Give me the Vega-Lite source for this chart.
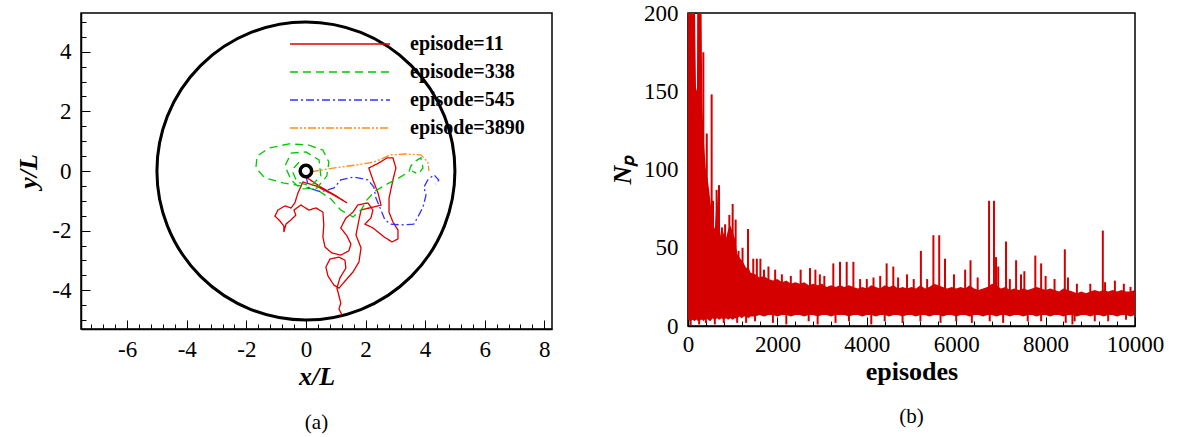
{
  "$schema": "https://vega.github.io/schema/vega-lite/v6.json",
  "padding": {"left": 15, "top": 1, "right": 5, "bottom": 0},
  "spacing": 55,
  "config": {
    "font": "Liberation Serif",
    "view": {"stroke": "black", "strokeWidth": 1.5},
    "axis": {"labelFont": "Liberation Serif", "labelFontSize": 23, "labelColor": "black", "domainColor": "black", "domainWidth": 1.5, "tickColor": "black", "tickWidth": 1, "tickSize": -9, "grid": false, "labelFlush": false, "labelOverlap": false, "titleFont": "Liberation Serif", "titleFontSize": 26, "titleFontWeight": "bold", "titleColor": "black"},
    "title": {"font": "Liberation Serif", "fontSize": 21, "fontWeight": "normal", "color": "black"}
  },
  "datasets": {
    "traj": [
      {"s":"episode=11","i":1,"x":0,"y":-0.20},{"s":"episode=11","i":2,"x":0.44,"y":-0.50},{"s":"episode=11","i":3,"x":0.91,"y":-0.77},{"s":"episode=11","i":4,"x":1.38,"y":-1.07},{"s":"episode=11","i":5,"x":0.94,"y":-0.81},{"s":"episode=11","i":6,"x":0.34,"y":-0.50},{"s":"episode=11","i":7,"x":-0.10,"y":-0.37},{"s":"episode=11","i":8,"x":-0.27,"y":-0.74},{"s":"episode=11","i":9,"x":-0.37,"y":-1.07},{"s":"episode=11","i":10,"x":-0.50,"y":-1.24},
      {"s":"episode=11","i":11,"x":-0.70,"y":-1.17},{"s":"episode=11","i":12,"x":-0.94,"y":-1.31},{"s":"episode=11","i":13,"x":-1.04,"y":-1.51},{"s":"episode=11","i":14,"x":-0.87,"y":-1.68},{"s":"episode=11","i":15,"x":-0.74,"y":-1.85},{"s":"episode=11","i":16,"x":-0.74,"y":-2.05},{"s":"episode=11","i":17,"x":-0.67,"y":-1.78},{"s":"episode=11","i":18,"x":-0.50,"y":-1.64},{"s":"episode=11","i":19,"x":-0.34,"y":-1.48},{"s":"episode=11","i":20,"x":-0.40,"y":-1.31},
      {"s":"episode=11","i":21,"x":-0.17,"y":-1.14},{"s":"episode=11","i":22,"x":0.10,"y":-1.31},{"s":"episode=11","i":23,"x":0.34,"y":-1.24},{"s":"episode=11","i":24,"x":0.57,"y":-1.38},{"s":"episode=11","i":25,"x":0.60,"y":-1.81},{"s":"episode=11","i":26,"x":0.57,"y":-2.21},{"s":"episode=11","i":27,"x":0.64,"y":-2.55},{"s":"episode=11","i":28,"x":0.87,"y":-2.75},{"s":"episode=11","i":29,"x":1.17,"y":-2.82},{"s":"episode=11","i":30,"x":1.44,"y":-2.68},
      {"s":"episode=11","i":31,"x":1.51,"y":-2.45},{"s":"episode=11","i":32,"x":1.38,"y":-2.18},{"s":"episode=11","i":33,"x":1.17,"y":-1.91},{"s":"episode=11","i":34,"x":1.34,"y":-1.58},{"s":"episode=11","i":35,"x":1.58,"y":-1.38},{"s":"episode=11","i":36,"x":1.74,"y":-1.14},{"s":"episode=11","i":37,"x":2.08,"y":-1.07},{"s":"episode=11","i":38,"x":2.25,"y":-1.31},{"s":"episode=11","i":39,"x":2.18,"y":-1.58},{"s":"episode=11","i":40,"x":1.98,"y":-1.78},
      {"s":"episode=11","i":41,"x":2.25,"y":-1.91},{"s":"episode=11","i":42,"x":2.62,"y":-2.21},{"s":"episode=11","i":43,"x":2.89,"y":-2.38},{"s":"episode=11","i":44,"x":3.09,"y":-2.28},{"s":"episode=11","i":45,"x":3.09,"y":-1.98},{"s":"episode=11","i":46,"x":2.92,"y":-1.71},{"s":"episode=11","i":47,"x":2.79,"y":-1.38},{"s":"episode=11","i":48,"x":2.79,"y":-0.91},{"s":"episode=11","i":49,"x":2.92,"y":-0.30},{"s":"episode=11","i":50,"x":3.02,"y":0.10},
      {"s":"episode=11","i":51,"x":2.92,"y":0.44},{"s":"episode=11","i":52,"x":2.72,"y":0.44},{"s":"episode=11","i":53,"x":2.45,"y":0.27},{"s":"episode=11","i":54,"x":2.11,"y":0.10},{"s":"episode=11","i":55,"x":2.25,"y":-0.30},{"s":"episode=11","i":56,"x":2.42,"y":-0.74},{"s":"episode=11","i":57,"x":2.52,"y":-1.14},{"s":"episode=11","i":58,"x":2.25,"y":-1.21},{"s":"episode=11","i":59,"x":1.85,"y":-1.31},{"s":"episode=11","i":60,"x":1.78,"y":-1.64},
      {"s":"episode=11","i":61,"x":1.68,"y":-2.15},{"s":"episode=11","i":62,"x":1.85,"y":-2.58},{"s":"episode=11","i":63,"x":1.78,"y":-3.05},{"s":"episode=11","i":64,"x":1.58,"y":-3.39},{"s":"episode=11","i":65,"x":1.34,"y":-3.66},{"s":"episode=11","i":66,"x":1.11,"y":-3.93},{"s":"episode=11","i":67,"x":0.94,"y":-3.83},{"s":"episode=11","i":68,"x":0.74,"y":-3.52},{"s":"episode=11","i":69,"x":0.67,"y":-3.22},{"s":"episode=11","i":70,"x":0.81,"y":-2.95},
      {"s":"episode=11","i":71,"x":1.11,"y":-2.89},{"s":"episode=11","i":72,"x":1.31,"y":-2.99},{"s":"episode=11","i":73,"x":1.34,"y":-3.26},{"s":"episode=11","i":74,"x":1.14,"y":-3.59},{"s":"episode=11","i":75,"x":1.04,"y":-3.93},{"s":"episode=11","i":76,"x":1.11,"y":-4.19},{"s":"episode=11","i":77,"x":1.17,"y":-4.43},{"s":"episode=11","i":78,"x":1.11,"y":-4.63},{"s":"episode=11","i":79,"x":1.21,"y":-4.83},
      {"s":"episode=338","i":1,"x":-0.23,"y":0.30},{"s":"episode=338","i":2,"x":-0.47,"y":0.03},{"s":"episode=338","i":3,"x":-0.30,"y":-0.37},{"s":"episode=338","i":4,"x":0.17,"y":-0.50},{"s":"episode=338","i":5,"x":0.50,"y":-0.17},{"s":"episode=338","i":6,"x":0.44,"y":0.37},{"s":"episode=338","i":7,"x":0,"y":0.64},{"s":"episode=338","i":8,"x":-0.50,"y":0.60},{"s":"episode=338","i":9,"x":-0.70,"y":0.17},{"s":"episode=338","i":10,"x":-0.50,"y":-0.30},
      {"s":"episode=338","i":11,"x":-0.17,"y":-0.60},{"s":"episode=338","i":12,"x":0.37,"y":-0.57},{"s":"episode=338","i":13,"x":0.70,"y":-0.17},{"s":"episode=338","i":14,"x":0.77,"y":0.30},{"s":"episode=338","i":15,"x":0.57,"y":0.70},{"s":"episode=338","i":16,"x":0.10,"y":0.87},{"s":"episode=338","i":17,"x":-0.57,"y":0.91},{"s":"episode=338","i":18,"x":-1.24,"y":0.77},{"s":"episode=338","i":19,"x":-1.64,"y":0.50},{"s":"episode=338","i":20,"x":-1.68,"y":0.10},
      {"s":"episode=338","i":21,"x":-1.38,"y":-0.23},{"s":"episode=338","i":22,"x":-0.77,"y":-0.40},{"s":"episode=338","i":23,"x":-0.17,"y":-0.50},{"s":"episode=338","i":24,"x":0.44,"y":-0.67},{"s":"episode=338","i":25,"x":0.84,"y":-0.94},{"s":"episode=338","i":26,"x":1.17,"y":-1.31},{"s":"episode=338","i":27,"x":1.58,"y":-1.54},{"s":"episode=338","i":28,"x":1.85,"y":-1.31},{"s":"episode=338","i":29,"x":2.05,"y":-0.97},{"s":"episode=338","i":30,"x":2.32,"y":-0.67},
      {"s":"episode=338","i":31,"x":2.72,"y":-0.44},{"s":"episode=338","i":32,"x":3.12,"y":-0.23},{"s":"episode=338","i":33,"x":3.46,"y":-0.03},{"s":"episode=338","i":34,"x":3.52,"y":0.17},{"s":"episode=338","i":35,"x":3.69,"y":0.34},{"s":"episode=338","i":36,"x":3.86,"y":0.44},{"s":"episode=338","i":37,"x":3.93,"y":0.10},{"s":"episode=338","i":38,"x":3.76,"y":-0.10},{"s":"episode=338","i":39,"x":3.56,"y":0},
      {"s":"episode=545","i":1,"x":0,"y":-0.17},{"s":"episode=545","i":2,"x":0.10,"y":-0.57},{"s":"episode=545","i":3,"x":0.50,"y":-0.70},{"s":"episode=545","i":4,"x":0.94,"y":-0.57},{"s":"episode=545","i":5,"x":1.17,"y":-0.30},{"s":"episode=545","i":6,"x":1.61,"y":-0.20},{"s":"episode=545","i":7,"x":2.08,"y":-0.30},{"s":"episode=545","i":8,"x":2.28,"y":-0.54},{"s":"episode=545","i":9,"x":2.35,"y":-0.91},{"s":"episode=545","i":10,"x":2.52,"y":-1.31},
      {"s":"episode=545","i":11,"x":2.65,"y":-1.64},{"s":"episode=545","i":12,"x":2.85,"y":-1.78},{"s":"episode=545","i":13,"x":3.19,"y":-1.81},{"s":"episode=545","i":14,"x":3.62,"y":-1.78},{"s":"episode=545","i":15,"x":3.76,"y":-1.54},{"s":"episode=545","i":16,"x":3.93,"y":-1.21},{"s":"episode=545","i":17,"x":4.03,"y":-0.81},{"s":"episode=545","i":18,"x":3.96,"y":-0.54},{"s":"episode=545","i":19,"x":4.09,"y":-0.30},{"s":"episode=545","i":20,"x":4.30,"y":-0.13},
      {"s":"episode=545","i":21,"x":4.46,"y":-0.30},{"s":"episode=545","i":22,"x":4.36,"y":-0.44},
      {"s":"episode=3890","i":1,"x":0.17,"y":-0.03},{"s":"episode=3890","i":2,"x":0.91,"y":0.10},{"s":"episode=3890","i":3,"x":1.68,"y":0.20},{"s":"episode=3890","i":4,"x":2.28,"y":0.30},{"s":"episode=3890","i":5,"x":2.85,"y":0.54},{"s":"episode=3890","i":6,"x":3.36,"y":0.57},{"s":"episode=3890","i":7,"x":3.86,"y":0.54},{"s":"episode=3890","i":8,"x":4.09,"y":0.30},{"s":"episode=3890","i":9,"x":4.13,"y":0}
    ],
    "origin": [{"x": 0, "y": 0}],
    "env": [
      {"ep":0,"lo":4,"hi":215},{"ep":50,"lo":3,"hi":215},{"ep":100,"lo":4,"hi":215},{"ep":150,"lo":3,"hi":215},{"ep":180,"lo":4,"hi":150},{"ep":200,"lo":4,"hi":152},{"ep":220,"lo":3,"hi":215},{"ep":300,"lo":4,"hi":215},{"ep":320,"lo":4,"hi":140},{"ep":350,"lo":3,"hi":120},
      {"ep":400,"lo":5,"hi":100},{"ep":450,"lo":4,"hi":92},{"ep":500,"lo":3,"hi":80},{"ep":550,"lo":5,"hi":66},{"ep":600,"lo":4,"hi":62},{"ep":650,"lo":5,"hi":85},{"ep":700,"lo":4,"hi":64},{"ep":750,"lo":5,"hi":55},{"ep":800,"lo":4,"hi":60},{"ep":850,"lo":5,"hi":56},
      {"ep":900,"lo":4,"hi":62},{"ep":950,"lo":5,"hi":64},{"ep":1000,"lo":4,"hi":60},{"ep":1050,"lo":5,"hi":56},{"ep":1100,"lo":5,"hi":46},{"ep":1150,"lo":6,"hi":44},{"ep":1200,"lo":5,"hi":42},{"ep":1250,"lo":6,"hi":40},{"ep":1300,"lo":6,"hi":37},{"ep":1350,"lo":5,"hi":38},
      {"ep":1400,"lo":6,"hi":34},{"ep":1500,"lo":6,"hi":33},{"ep":1600,"lo":7,"hi":31},{"ep":1700,"lo":6,"hi":32},{"ep":1800,"lo":7,"hi":30},{"ep":1900,"lo":7,"hi":29},{"ep":2000,"lo":6,"hi":30},{"ep":2100,"lo":7,"hi":28},{"ep":2200,"lo":7,"hi":29},{"ep":2300,"lo":6,"hi":27},
      {"ep":2400,"lo":7,"hi":28},{"ep":2500,"lo":7,"hi":27},{"ep":2600,"lo":6,"hi":28},{"ep":2700,"lo":7,"hi":26},{"ep":2800,"lo":7,"hi":27},{"ep":2900,"lo":6,"hi":26},{"ep":3000,"lo":7,"hi":27},{"ep":3100,"lo":7,"hi":25},{"ep":3200,"lo":6,"hi":26},{"ep":3300,"lo":7,"hi":25},
      {"ep":3400,"lo":7,"hi":26},{"ep":3500,"lo":7,"hi":25},{"ep":3600,"lo":6,"hi":26},{"ep":3700,"lo":7,"hi":25},{"ep":3800,"lo":7,"hi":24},{"ep":3900,"lo":6,"hi":25},{"ep":4000,"lo":7,"hi":24},{"ep":4100,"lo":7,"hi":26},{"ep":4200,"lo":6,"hi":25},{"ep":4300,"lo":7,"hi":24},
      {"ep":4400,"lo":7,"hi":26},{"ep":4500,"lo":6,"hi":25},{"ep":4600,"lo":7,"hi":26},{"ep":4700,"lo":7,"hi":24},{"ep":4800,"lo":6,"hi":25},{"ep":4900,"lo":7,"hi":24},{"ep":5000,"lo":7,"hi":25},{"ep":5100,"lo":6,"hi":24},{"ep":5200,"lo":7,"hi":26},{"ep":5300,"lo":7,"hi":24},
      {"ep":5400,"lo":6,"hi":25},{"ep":5500,"lo":7,"hi":27},{"ep":5600,"lo":7,"hi":26},{"ep":5700,"lo":6,"hi":25},{"ep":5800,"lo":7,"hi":24},{"ep":5900,"lo":7,"hi":25},{"ep":6000,"lo":6,"hi":24},{"ep":6100,"lo":7,"hi":25},{"ep":6200,"lo":7,"hi":24},{"ep":6300,"lo":6,"hi":26},
      {"ep":6400,"lo":7,"hi":24},{"ep":6500,"lo":7,"hi":23},{"ep":6600,"lo":6,"hi":24},{"ep":6700,"lo":7,"hi":25},{"ep":6800,"lo":7,"hi":27},{"ep":6900,"lo":6,"hi":26},{"ep":7000,"lo":7,"hi":24},{"ep":7100,"lo":7,"hi":25},{"ep":7200,"lo":6,"hi":23},{"ep":7300,"lo":7,"hi":24},
      {"ep":7400,"lo":7,"hi":23},{"ep":7500,"lo":6,"hi":24},{"ep":7600,"lo":7,"hi":23},{"ep":7700,"lo":7,"hi":24},{"ep":7800,"lo":6,"hi":25},{"ep":7900,"lo":7,"hi":24},{"ep":8000,"lo":7,"hi":23},{"ep":8100,"lo":6,"hi":24},{"ep":8200,"lo":7,"hi":23},{"ep":8300,"lo":7,"hi":22},
      {"ep":8400,"lo":6,"hi":24},{"ep":8500,"lo":7,"hi":23},{"ep":8600,"lo":7,"hi":22},{"ep":8700,"lo":6,"hi":21},{"ep":8800,"lo":7,"hi":22},{"ep":8900,"lo":7,"hi":21},{"ep":9000,"lo":6,"hi":22},{"ep":9100,"lo":7,"hi":23},{"ep":9200,"lo":7,"hi":22},{"ep":9300,"lo":6,"hi":23},
      {"ep":9400,"lo":7,"hi":22},{"ep":9500,"lo":7,"hi":23},{"ep":9600,"lo":6,"hi":22},{"ep":9700,"lo":7,"hi":23},{"ep":9800,"lo":7,"hi":22},{"ep":9900,"lo":6,"hi":22},{"ep":10000,"lo":7,"hi":23}
    ],
    "spk": [
      {"ep":230,"lo":10,"hi":215},{"ep":343,"lo":10,"hi":175},{"ep":420,"lo":10,"hi":123},{"ep":529,"lo":10,"hi":148},{"ep":560,"lo":10,"hi":80},{"ep":640,"lo":10,"hi":87},{"ep":693,"lo":10,"hi":90},{"ep":760,"lo":10,"hi":63},{"ep":830,"lo":10,"hi":65},{"ep":925,"lo":10,"hi":71},
      {"ep":999,"lo":10,"hi":78},{"ep":1066,"lo":10,"hi":68},{"ep":1130,"lo":10,"hi":48},{"ep":1220,"lo":10,"hi":50},{"ep":1342,"lo":10,"hi":62},{"ep":1460,"lo":10,"hi":43},{"ep":1540,"lo":10,"hi":43},{"ep":1620,"lo":10,"hi":43},{"ep":1700,"lo":10,"hi":36},{"ep":1800,"lo":10,"hi":38},
      {"ep":1950,"lo":10,"hi":36},{"ep":2100,"lo":10,"hi":33},{"ep":2300,"lo":10,"hi":32},{"ep":2520,"lo":10,"hi":36},{"ep":2729,"lo":10,"hi":37},{"ep":2850,"lo":10,"hi":36},{"ep":2950,"lo":10,"hi":33},{"ep":3050,"lo":10,"hi":32},{"ep":3251,"lo":10,"hi":40},{"ep":3400,"lo":10,"hi":41},
      {"ep":3550,"lo":10,"hi":41},{"ep":3700,"lo":10,"hi":41},{"ep":3850,"lo":10,"hi":30},{"ep":4000,"lo":10,"hi":30},{"ep":4150,"lo":10,"hi":31},{"ep":4300,"lo":10,"hi":32},{"ep":4444,"lo":10,"hi":40},{"ep":4593,"lo":10,"hi":38},{"ep":4700,"lo":10,"hi":31},{"ep":4900,"lo":10,"hi":33},
      {"ep":5050,"lo":10,"hi":30},{"ep":5210,"lo":10,"hi":48},{"ep":5350,"lo":10,"hi":30},{"ep":5490,"lo":10,"hi":58},{"ep":5620,"lo":10,"hi":58},{"ep":5750,"lo":10,"hi":43},{"ep":5950,"lo":10,"hi":33},{"ep":6200,"lo":10,"hi":36},{"ep":6320,"lo":10,"hi":42},{"ep":6480,"lo":10,"hi":31},
      {"ep":6735,"lo":10,"hi":80},{"ep":6845,"lo":10,"hi":80},{"ep":6890,"lo":10,"hi":44},{"ep":6940,"lo":10,"hi":38},{"ep":7115,"lo":10,"hi":54},{"ep":7200,"lo":10,"hi":30},{"ep":7340,"lo":10,"hi":42},{"ep":7450,"lo":10,"hi":33},{"ep":7525,"lo":10,"hi":35},{"ep":7770,"lo":10,"hi":45},
      {"ep":7900,"lo":10,"hi":40},{"ep":8000,"lo":10,"hi":32},{"ep":8200,"lo":10,"hi":30},{"ep":8430,"lo":10,"hi":49},{"ep":8500,"lo":10,"hi":31},{"ep":8700,"lo":10,"hi":27},{"ep":9000,"lo":10,"hi":27},{"ep":9280,"lo":10,"hi":61},{"ep":9330,"lo":10,"hi":28},{"ep":9550,"lo":10,"hi":29},
      {"ep":9750,"lo":10,"hi":27},{"ep":9900,"lo":10,"hi":25},
      {"ep":60,"lo":0.5,"hi":10},{"ep":250,"lo":1,"hi":10},{"ep":400,"lo":2,"hi":10},{"ep":600,"lo":1,"hi":10},{"ep":800,"lo":2,"hi":10},{"ep":1100,"lo":2,"hi":10},{"ep":1300,"lo":2,"hi":10},{"ep":1500,"lo":3,"hi":10},{"ep":1900,"lo":2,"hi":10},{"ep":2200,"lo":1,"hi":10},
      {"ep":2700,"lo":3,"hi":10},{"ep":2900,"lo":1,"hi":10},{"ep":3300,"lo":2,"hi":10},{"ep":3600,"lo":3,"hi":10},{"ep":4100,"lo":1,"hi":10},{"ep":4400,"lo":3,"hi":10},{"ep":4800,"lo":2,"hi":10},{"ep":5200,"lo":3,"hi":10},{"ep":5650,"lo":2,"hi":10},{"ep":6000,"lo":3,"hi":10},
      {"ep":6350,"lo":2,"hi":10},{"ep":6750,"lo":3,"hi":10},{"ep":7050,"lo":2,"hi":10},{"ep":7600,"lo":3,"hi":10},{"ep":7900,"lo":3,"hi":10},{"ep":8450,"lo":2,"hi":10},{"ep":8600,"lo":1,"hi":10},{"ep":8650,"lo":3,"hi":10},{"ep":9100,"lo":3,"hi":10},{"ep":9400,"lo":3,"hi":10},{"ep":9800,"lo":4,"hi":10}
    ]
  },
  "hconcat": [
    {
      "width": 471,
      "height": 316,
      "title": {"text": "(a)", "orient": "bottom", "frame": "group", "anchor": "middle", "offset": 23},
      "resolve": {"axis": {"x": "independent", "y": "independent"}},
      "layer": [
        {
          "data": {"name": "origin"},
          "mark": {"type": "point", "shape": "circle", "filled": false, "size": 88804, "stroke": "black", "strokeWidth": 3, "opacity": 1, "clip": false},
          "encoding": {
            "x": {"field": "x", "type": "quantitative", "scale": {"domain": [-7.55, 8.26], "nice": false, "zero": false},
                  "axis": {"orient": "bottom", "values": [-6, -4, -2, 0, 2, 4, 6, 8], "labelExpr": "replace(datum.label, '−', '-')", "title": "x/L", "titleFontStyle": "italic", "labelPadding": 18, "titlePadding": 2}},
            "y": {"field": "y", "type": "quantitative", "scale": {"domain": [-5.3, 5.3], "nice": false, "zero": false},
                  "axis": {"orient": "left", "values": [-4, -2, 0, 2, 4], "labelExpr": "replace(datum.label, '−', '-')", "title": "y/L", "titleFontStyle": "italic", "labelPadding": 19, "titlePadding": 10}}
          }
        },
        {
          "data": {"name": "traj"},
          "mark": {"type": "line", "strokeWidth": 1.3, "clip": true},
          "encoding": {
            "x": {"field": "x", "type": "quantitative",
                  "axis": {"orient": "bottom", "values": [-7.2,-6.8,-6.4,-6,-5.6,-5.2,-4.8,-4.4,-4,-3.6,-3.2,-2.8,-2.4,-2,-1.6,-1.2,-0.8,-0.4,0,0.4,0.8,1.2,1.6,2,2.4,2.8,3.2,3.6,4,4.4,4.8,5.2,5.6,6,6.4,6.8,7.2,7.6,8], "labels": false, "domain": false, "tickSize": -5, "title": null}},
            "y": {"field": "y", "type": "quantitative",
                  "axis": {"orient": "left", "values": [-5,-4.5,-4,-3.5,-3,-2.5,-2,-1.5,-1,-0.5,0,0.5,1,1.5,2,2.5,3,3.5,4,4.5,5], "labels": false, "domain": false, "tickSize": -5, "title": null}},
            "order": {"field": "i", "type": "quantitative"},
            "color": {"field": "s", "type": "nominal",
                      "scale": {"domain": ["episode=11", "episode=338", "episode=545", "episode=3890"], "range": ["#dd0000", "#00c800", "#3333ff", "#ff8c1a"]},
                      "legend": {"orient": "none", "legendX": 249, "legendY": 21, "title": null, "symbolType": "M -10 0 L 10 0", "symbolSize": 100, "symbolStrokeWidth": 1.5, "labelFont": "Liberation Serif", "labelFontSize": 20, "labelFontWeight": "bold", "labelColor": "black", "labelOffset": 60, "rowPadding": 8}},
            "strokeDash": {"field": "s", "type": "nominal",
                           "scale": {"domain": ["episode=11", "episode=338", "episode=545", "episode=3890"], "range": [[1, 0], [8, 5], [8, 3, 2, 3], [8, 2, 2, 2, 2, 2]]},
                           "legend": {"orient": "none", "legendX": 249, "legendY": 21, "title": null}}
          }
        },
        {
          "data": {"name": "origin"},
          "mark": {"type": "point", "shape": "circle", "filled": false, "size": 132, "stroke": "black", "strokeWidth": 3.5, "opacity": 1},
          "encoding": {
            "x": {"field": "x", "type": "quantitative", "axis": null},
            "y": {"field": "y", "type": "quantitative", "axis": null}
          }
        }
      ]
    },
    {
      "width": 447,
      "height": 313,
      "title": {"text": "(b)", "orient": "bottom", "frame": "group", "anchor": "middle", "offset": 22},
      "resolve": {"axis": {"x": "independent", "y": "independent"}},
      "layer": [
        {
          "data": {"name": "env"},
          "mark": {"type": "area", "color": "#d40000", "clip": true, "opacity": 1},
          "encoding": {
            "x": {"field": "ep", "type": "quantitative", "scale": {"domain": [0, 10000], "nice": false, "zero": false},
                  "axis": {"orient": "bottom", "values": [0, 2000, 4000, 6000, 8000, 10000], "format": "d", "title": "episodes", "labelPadding": 16, "titlePadding": 2}},
            "y": {"field": "hi", "type": "quantitative", "scale": {"domain": [0, 200], "nice": false, "zero": false},
                  "axis": {"orient": "left", "values": [0, 50, 100, 150, 200], "title": "Nₚ", "titleFontStyle": "italic", "labelPadding": 19, "titlePadding": 8}},
            "y2": {"field": "lo"}
          }
        },
        {
          "data": {"name": "spk"},
          "mark": {"type": "rule", "color": "#d40000", "strokeWidth": 2, "clip": true},
          "encoding": {
            "x": {"field": "ep", "type": "quantitative",
                  "axis": {"orient": "bottom", "values": [400,800,1200,1600,2400,2800,3200,3600,4400,4800,5200,5600,6400,6800,7200,7600,8400,8800,9200,9600], "labels": false, "domain": false, "tickSize": -5, "title": null}},
            "y": {"field": "hi", "type": "quantitative",
                  "axis": {"orient": "left", "values": [10,20,30,40,60,70,80,90,110,120,130,140,160,170,180,190], "labels": false, "domain": false, "tickSize": -5, "title": null}},
            "y2": {"field": "lo"}
          }
        }
      ]
    }
  ]
}
